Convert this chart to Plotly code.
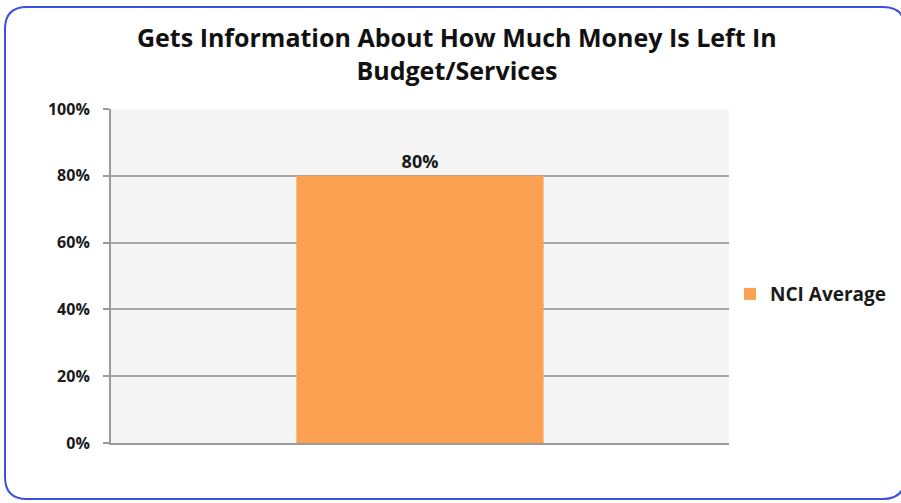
import plotly.graph_objects as go

# chart data
categories = ["NCI Average"]
values = [0.80]
value_labels = ["80%"]
series_name = "NCI Average"
title_text = "Gets Information About How Much Money Is Left In<br>Budget/Services"
y_ticks = [0, 0.2, 0.4, 0.6, 0.8, 1.0]
y_tick_labels = ["0%", "20%", "40%", "60%", "80%", "100%"]

W, H = 901, 503
# plot area in pixels
L, R, T, B = 111, 729, 109, 443


def px(x):
    return (x - L) / (R - L)


def py(y):
    return (B - y) / (B - T)


# rounded frame around the whole chart
x0, y0, x1, y1, r = 5, 7, 905, 499, 22
frame = (
    f"M {px(x0 + r)} {py(y0)} L {px(x1 - r)} {py(y0)} "
    f"Q {px(x1)} {py(y0)} {px(x1)} {py(y0 + r)} "
    f"L {px(x1)} {py(y1 - r)} Q {px(x1)} {py(y1)} {px(x1 - r)} {py(y1)} "
    f"L {px(x0 + r)} {py(y1)} Q {px(x0)} {py(y1)} {px(x0)} {py(y1 - r)} "
    f"L {px(x0)} {py(y0 + r)} Q {px(x0)} {py(y0)} {px(x0 + r)} {py(y0)} Z"
)

FONT = "Open Sans"

fig = go.Figure()
fig.add_trace(go.Bar(
    x=categories, y=values, name="<b>" + series_name + "</b>",
    marker=dict(color="#FCA152", line=dict(width=0)),
    width=0.4,
    text=["<b>" + t + "</b>" for t in value_labels],
    textposition="outside",
    textfont=dict(size=18, color="#1a1a1a", family=FONT),
    cliponaxis=False,
    showlegend=True,
))

# title as an annotation so its place is exact
fig.add_annotation(
    text="<b>" + title_text + "</b>", xref="paper", yref="paper",
    x=px(457), y=py(53), xanchor="center", yanchor="middle",
    showarrow=False, font=dict(size=25, family=FONT, color="#111111"),
)

fig.update_layout(
    width=W, height=H,
    margin=dict(l=L, r=W - R, t=T, b=H - B, autoexpand=False),
    paper_bgcolor="white",
    plot_bgcolor="#F5F5F5",
    font=dict(family=FONT, color="#1a1a1a"),
    xaxis=dict(
        showticklabels=False, showgrid=False,
        showline=True, linecolor="#9a9a9a", linewidth=2,
        zeroline=False, ticks="",
    ),
    yaxis=dict(
        range=[0, 1], tickvals=y_ticks,
        ticktext=["<b>" + t + "</b>" for t in y_tick_labels],
        tickfont=dict(size=16, family=FONT, color="#1a1a1a"),
        showgrid=True, gridcolor="#a6a6a6", gridwidth=1.5,
        showline=True, linecolor="#9a9a9a", linewidth=2,
        ticks="outside", ticklen=6, tickcolor="#9a9a9a", tickwidth=1.5,
        ticklabelstandoff=10,
        zeroline=False,
    ),
    legend=dict(
        x=px(730), y=py(294), xanchor="left", yanchor="middle",
        font=dict(size=19, family=FONT, color="#1a1a1a"),
        itemwidth=30, bgcolor="rgba(0,0,0,0)",
    ),
    shapes=[dict(
        type="path", path=frame, xref="paper", yref="paper",
        line=dict(color="#3B4FE0", width=2), fillcolor="rgba(0,0,0,0)",
        layer="above",
    )],
)

# remove the page's default body margin so the figure sits at the window corner
fig.write_html(
    "out.html",
    config={"displayModeBar": False, "responsive": False},
    post_script="document.body.style.margin='0';document.body.style.overflow='hidden';",
)
